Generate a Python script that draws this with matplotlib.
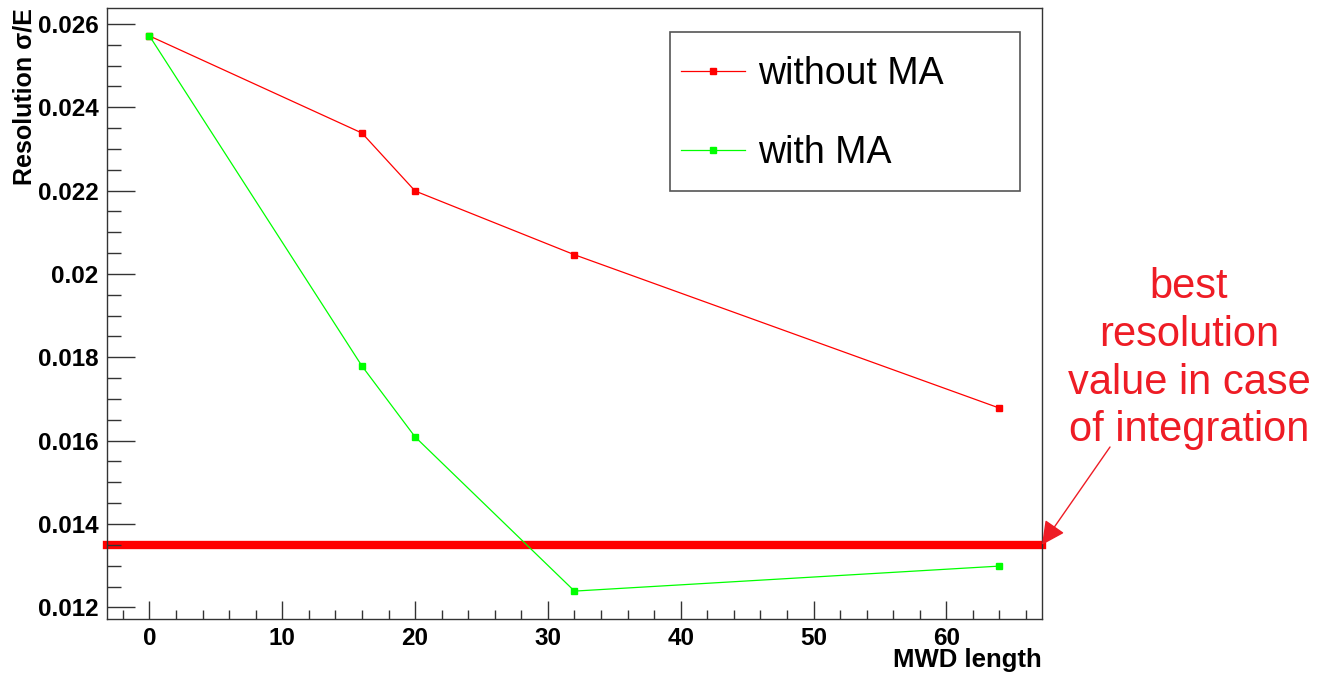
import matplotlib
matplotlib.use("Agg")
import matplotlib.pyplot as plt
from matplotlib.patches import Rectangle
from matplotlib.ticker import MultipleLocator, FuncFormatter

plt.rcParams['font.family'] = ['Liberation Sans', 'DejaVu Sans']

# data
mwd_length = [0, 16, 20, 32, 64]
res_without_ma = [0.02571, 0.02338, 0.02199, 0.02046, 0.01678]
res_with_ma = [0.02571, 0.01779, 0.01609, 0.01239, 0.01299]
best_integration = 0.0135
note_lines = ["best", "resolution", "value in case", "of integration"]

fig = plt.figure(figsize=(13.22, 6.73), dpi=100)
ax = fig.add_axes([0.0809, 0.0802, 0.7073, 0.9079])

ax.plot(mwd_length, res_without_ma, color='#ff0000', lw=0.9, marker='s', ms=4.5,
        label='without MA')
ax.plot(mwd_length, res_with_ma, color='#00ff00', lw=0.9, marker='s', ms=4.5,
        label='with MA')
ax.axhline(best_integration, color='#ff0000', lw=6, clip_on=False, zorder=1)

ax.set_xlim(-3.2, 67.2)
ax.set_ylim(0.01172, 0.02638)

ax.xaxis.set_major_locator(MultipleLocator(10))
ax.xaxis.set_minor_locator(MultipleLocator(2))
ax.yaxis.set_major_locator(MultipleLocator(0.002))
ax.yaxis.set_minor_locator(MultipleLocator(0.0005))
ax.yaxis.set_major_formatter(FuncFormatter(lambda v, p: '{:g}'.format(round(v, 4))))

ax.tick_params(axis='both', which='both', direction='in', colors='#333333', width=1)
ax.tick_params(axis='y', which='major', length=20, pad=6, labelsize=17.5, labelcolor='black')
ax.tick_params(axis='y', which='minor', length=10)
ax.tick_params(axis='x', which='major', length=13, pad=6, labelsize=17.5, labelcolor='black')
ax.tick_params(axis='x', which='minor', length=6.5)
for lab in ax.get_xticklabels() + ax.get_yticklabels():
    lab.set_fontweight('bold')
for sp in ax.spines.values():
    sp.set_color('#333333')
    sp.set_linewidth(1)

ax.set_xlabel('MWD length', fontsize=18.5, fontweight='bold', ha='right', va='top')
ax.xaxis.set_label_coords(1.0, -0.048)
ax.set_ylabel('Resolution σ/E', fontsize=18, fontweight='bold', ha='right', va='center')
ax.yaxis.set_label_coords(-0.088, 1.0)

# legend box drawn as a plain frame, entries placed inside it
ax.add_patch(Rectangle((0.602, 0.7005), 0.3743, 0.2602, transform=ax.transAxes,
                       facecolor='white', edgecolor='#555555', lw=1.2, zorder=4))
leg = ax.legend(loc='upper left', bbox_to_anchor=(0.614, 0.922), fontsize=27,
                frameon=False, borderpad=0, labelspacing=1.15, handlelength=1.7,
                handletextpad=0.35, borderaxespad=0)
leg.set_zorder(5)

fig.text(0.8994, 0.467, "\n".join(note_lines), color='#ee1c25', fontsize=30,
         ha='center', va='center', multialignment='center', linespacing=1.25)

ax.annotate('', xy=(1.0, best_integration), xycoords=('axes fraction', 'data'),
            xytext=(1110, 673 - 447), textcoords='figure pixels',
            arrowprops=dict(arrowstyle='-|>', color='#ee1c25', lw=1,
                            mutation_scale=36, shrinkA=0, shrinkB=0),
            annotation_clip=False)

fig.savefig('out.png', dpi=100)
